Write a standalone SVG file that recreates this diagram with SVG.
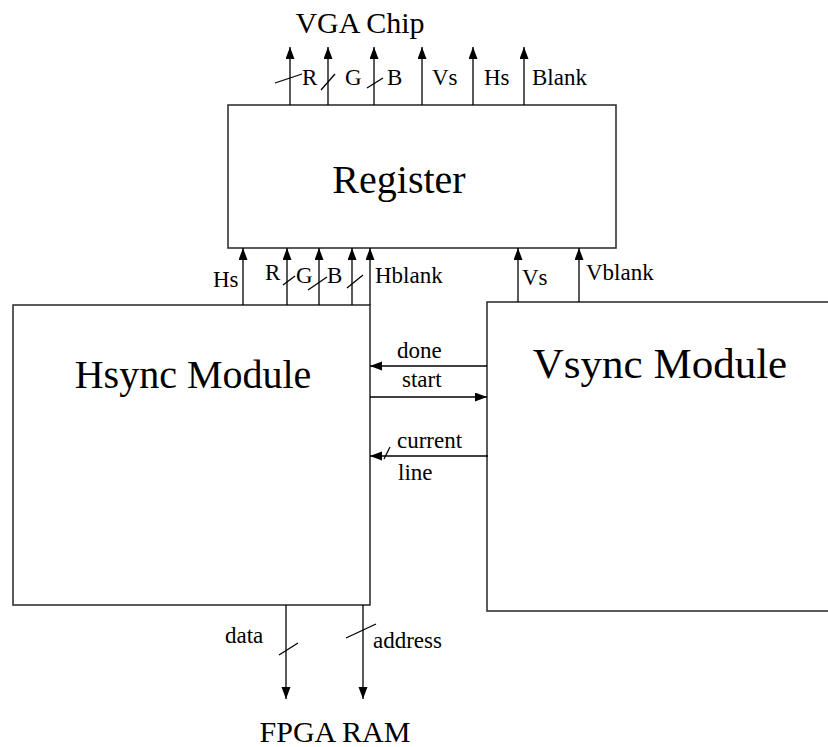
<svg xmlns="http://www.w3.org/2000/svg" width="828" height="747" viewBox="0 0 828 747">
<style>
  .box { fill: #ffffff; stroke: #333333; stroke-width: 1.6; }
  .w { stroke: #000000; stroke-width: 1.3; fill: none; }
  .a { stroke: #000000; stroke-width: 1.3; fill: none; marker-end: url(#ah); }
  text { font-family: 'Liberation Serif', 'DejaVu Serif', serif; fill: #000000; }
  .s { font-size: 23px; }
  .m { font-size: 30px; }
  .big { font-size: 40px; }
</style>
<defs>
  <marker id="ah" markerUnits="userSpaceOnUse" markerWidth="13" markerHeight="10" refX="12" refY="4.5" orient="auto">
    <path d="M0,0 L12,4.5 L0,9 z" fill="#000000"/>
  </marker>
</defs>
<rect width="828" height="747" fill="#ffffff"/>

<g id="register">
  <rect class="box" x="228" y="105" width="388" height="143"/>
  <text class="big" x="399" y="193" text-anchor="middle">Register</text>
</g>
<g id="hsync">
  <rect class="box" x="13" y="305" width="357" height="300"/>
  <text class="big" x="193" y="388" text-anchor="middle">Hsync Module</text>
</g>
<g id="vsync">
  <rect class="box" x="487" y="302" width="400" height="309"/>
  <text class="big" x="660" y="378" text-anchor="middle" style="font-size:43px">Vsync Module</text>
</g>
<g id="vga-chip">
  <text class="m" x="360" y="33" text-anchor="middle">VGA Chip</text>
</g>
<g id="fpga-ram">
  <text class="m" x="335" y="742" text-anchor="middle">FPGA RAM</text>
</g>

<g id="connectors">
  <line class="a" x1="290" y1="105" x2="290" y2="47"/>
  <line class="a" x1="328" y1="105" x2="328" y2="47"/>
  <line class="a" x1="374" y1="105" x2="374" y2="47"/>
  <line class="a" x1="422" y1="105" x2="422" y2="47"/>
  <line class="a" x1="473" y1="105" x2="473" y2="47"/>
  <line class="a" x1="524" y1="105" x2="524" y2="47"/>
  <line class="w" x1="275" y1="83" x2="302" y2="74"/>
  <line class="w" x1="321" y1="90" x2="335" y2="74"/>
  <line class="w" x1="367" y1="88" x2="383" y2="78"/>
  <text class="s" x="302" y="85">R</text>
  <text class="s" x="345" y="85">G</text>
  <text class="s" x="387" y="85">B</text>
  <text class="s" x="432" y="85">Vs</text>
  <text class="s" x="484" y="85">Hs</text>
  <text class="s" x="532" y="85">Blank</text>

  <line class="a" x1="243" y1="305" x2="243" y2="248"/>
  <line class="a" x1="287" y1="305" x2="287" y2="248"/>
  <line class="a" x1="319" y1="305" x2="319" y2="248"/>
  <line class="a" x1="352" y1="305" x2="352" y2="248"/>
  <line class="a" x1="370" y1="305" x2="370" y2="248"/>
  <line class="w" x1="283" y1="285" x2="295" y2="276"/>
  <line class="w" x1="308" y1="290" x2="327" y2="277"/>
  <line class="w" x1="347" y1="288" x2="363" y2="275"/>
  <text class="s" x="213" y="287">Hs</text>
  <text class="s" x="265" y="280">R</text>
  <text class="s" x="296" y="283">G</text>
  <text class="s" x="327" y="283">B</text>
  <text class="s" x="375" y="283">Hblank</text>

  <line class="a" x1="518" y1="302" x2="518" y2="248"/>
  <line class="a" x1="579" y1="302" x2="579" y2="248"/>
  <text class="s" x="522" y="285">Vs</text>
  <text class="s" x="586" y="280">Vblank</text>

  <line class="a" x1="487" y1="366" x2="370" y2="366"/>
  <text class="s" x="397" y="358">done</text>
  <line class="a" x1="370" y1="397" x2="487" y2="397"/>
  <text class="s" x="402" y="387">start</text>
  <line class="a" x1="488" y1="456" x2="370" y2="456"/>
  <line class="w" x1="384" y1="459" x2="390" y2="447"/>
  <text class="s" x="397" y="448">current</text>
  <text class="s" x="398" y="480">line</text>

  <line class="a" x1="286" y1="605" x2="286" y2="699"/>
  <line class="a" x1="363" y1="605" x2="363" y2="699"/>
  <line class="w" x1="279" y1="655" x2="298" y2="643"/>
  <line class="w" x1="346" y1="638" x2="376" y2="624"/>
  <text class="s" x="225" y="643">data</text>
  <text class="s" x="373" y="648">address</text>
</g>
</svg>
